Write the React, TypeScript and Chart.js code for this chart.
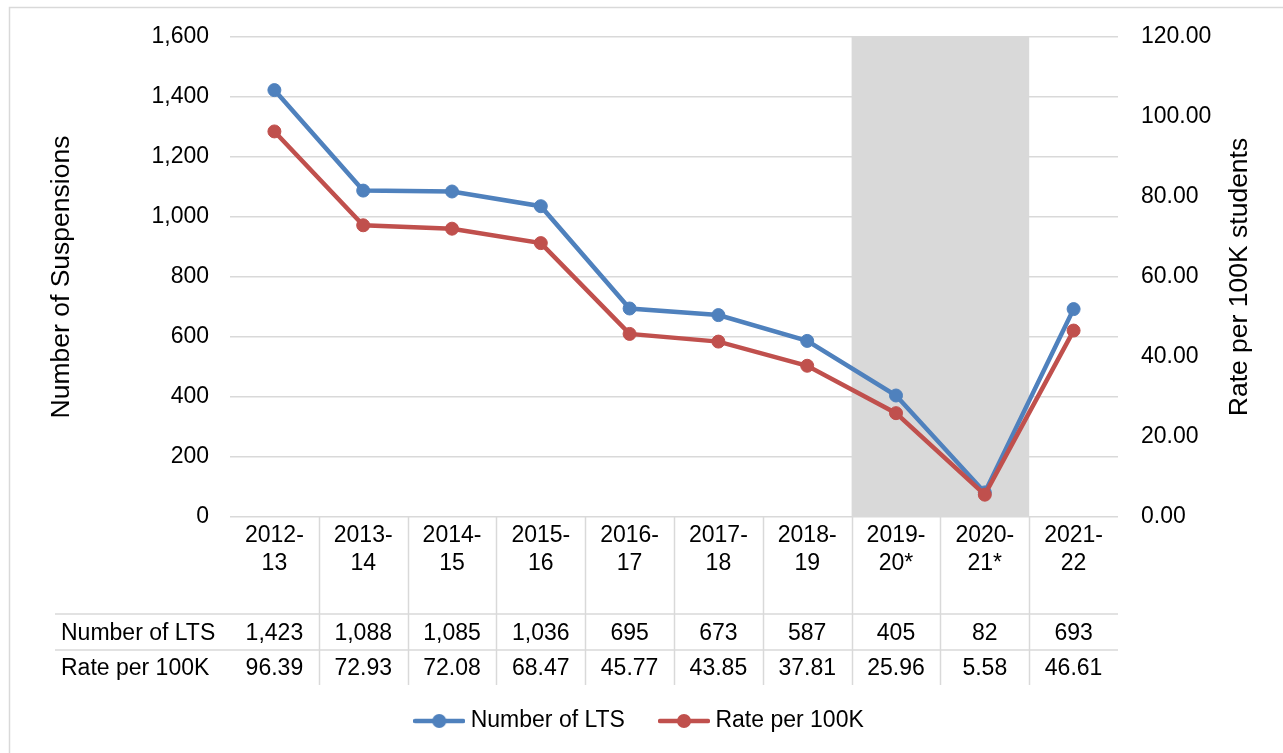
import React, { useEffect, useRef } from "react";
import { Chart, registerables } from "chart.js";

Chart.register(...registerables);

// ---- data ----
const categories: string[][] = [
  ["2012-", "13"],
  ["2013-", "14"],
  ["2014-", "15"],
  ["2015-", "16"],
  ["2016-", "17"],
  ["2017-", "18"],
  ["2018-", "19"],
  ["2019-", "20*"],
  ["2020-", "21*"],
  ["2021-", "22"],
];
const numberOfLTS = [1423, 1088, 1085, 1036, 695, 673, 587, 405, 82, 693];
const ratePer100K = [96.39, 72.93, 72.08, 68.47, 45.77, 43.85, 37.81, 25.96, 5.58, 46.61];
const seriesNames = ["Number of LTS", "Rate per 100K"];
const shadedFrom = 7;
const shadedTo = 8;
const leftAxisTitle = "Number of Suspensions";
const rightAxisTitle = "Rate per 100K students";
const leftTickMax = 1600;
const leftTickStep = 200;
const rightTickMax = 120;
const rightTickStep = 20;

// ---- styles ----
const FONT = "'Liberation Sans', Arial, sans-serif";
const FS = 23;
const TITLE_FS = 26.5;
const BLUE = "#4F81BD";
const RED = "#C0504D";
const GRID = "#D9D9D9";
const TEXT = "#000000";

function makeLegendImage(color: string): HTMLCanvasElement {
  const c = document.createElement("canvas");
  c.width = 52;
  c.height = 16;
  const g = c.getContext("2d")!;
  g.strokeStyle = color;
  g.lineWidth = 4.5;
  g.lineCap = "round";
  g.beginPath();
  g.moveTo(2, 8);
  g.lineTo(50, 8);
  g.stroke();
  g.fillStyle = color;
  g.beginPath();
  g.arc(26, 8, 7, 0, Math.PI * 2);
  g.fill();
  return c;
}

const tablePlugin = {
  id: "tablePlugin",
  beforeDraw(chart: any) {
    const ctx = chart.ctx;
    ctx.save();
    ctx.strokeStyle = GRID;
    ctx.lineWidth = 1.5;
    ctx.beginPath();
    ctx.moveTo(9.5, 753);
    ctx.lineTo(9.5, 7.5);
    ctx.lineTo(1283, 7.5);
    ctx.stroke();
    ctx.restore();
  },
  beforeDatasetsDraw(chart: any) {
    const ctx = chart.ctx;
    const x = chart.scales.x;
    const area = chart.chartArea;
    const half = (x.getPixelForValue(1) - x.getPixelForValue(0)) / 2;
    const x0 = x.getPixelForValue(shadedFrom) - half;
    const x1 = x.getPixelForValue(shadedTo) + half;
    ctx.save();
    ctx.fillStyle = GRID;
    ctx.fillRect(x0, area.top, x1 - x0, area.bottom - area.top);
    ctx.restore();
  },
  afterDraw(chart: any) {
    const ctx = chart.ctx;
    const x = chart.scales.x;
    const area = chart.chartArea;
    const half = (x.getPixelForValue(1) - x.getPixelForValue(0)) / 2;
    const rowLine1 = 614;
    const rowLine2 = 650;
    const tableBottom = 685;
    const tableLeft = 55;
    ctx.save();
    ctx.strokeStyle = GRID;
    ctx.lineWidth = 1.5;
    ctx.beginPath();
    for (let i = 0; i < categories.length - 1; i++) {
      const bx = Math.round(x.getPixelForValue(i) + half) + 0.5;
      ctx.moveTo(bx, area.bottom);
      ctx.lineTo(bx, tableBottom);
    }
    ctx.moveTo(tableLeft, rowLine1);
    ctx.lineTo(area.right, rowLine1);
    ctx.moveTo(tableLeft, rowLine2);
    ctx.lineTo(area.right, rowLine2);
    ctx.stroke();

    ctx.fillStyle = TEXT;
    ctx.font = `${FS}px ${FONT}`;
    ctx.textBaseline = "middle";
    ctx.textAlign = "left";
    const y1 = (rowLine1 + rowLine2) / 2 + 1.5;
    const y2 = (rowLine2 + tableBottom) / 2 + 1.5;
    ctx.fillText(seriesNames[0], 61, y1);
    ctx.fillText(seriesNames[1], 61, y2);
    ctx.textAlign = "center";
    for (let i = 0; i < categories.length; i++) {
      const cx = x.getPixelForValue(i);
      ctx.fillText(numberOfLTS[i].toLocaleString("en-US"), cx, y1);
      ctx.fillText(ratePer100K[i].toFixed(2), cx, y2);
    }

    // right axis title (reads bottom to top)
    ctx.font = `${TITLE_FS}px ${FONT}`;
    ctx.translate(1240, (area.top + area.bottom) / 2);
    ctx.rotate(-Math.PI / 2);
    ctx.textAlign = "center";
    ctx.fillText(rightAxisTitle, 0, 0);
    ctx.restore();
  },
};

export default function App() {
  const ref = useRef<HTMLCanvasElement | null>(null);

  useEffect(() => {
    if (!ref.current) return;
    Chart.defaults.font.family = FONT;
    Chart.defaults.font.size = FS;
    Chart.defaults.color = TEXT;
    const legendImages = [makeLegendImage(BLUE), makeLegendImage(RED)];

    const chart = new Chart(ref.current, {
      type: "line",
      data: {
        labels: categories,
        datasets: [
          {
            label: seriesNames[0],
            data: numberOfLTS,
            yAxisID: "y",
            borderColor: BLUE,
            backgroundColor: BLUE,
            borderWidth: 4.5,
            pointRadius: 6.5,
            pointBorderWidth: 1,
            pointBackgroundColor: BLUE,
            pointBorderColor: BLUE,
            tension: 0,
            order: 1,
          },
          {
            label: seriesNames[1],
            data: ratePer100K,
            yAxisID: "y2",
            borderColor: RED,
            backgroundColor: RED,
            borderWidth: 4.5,
            pointRadius: 6.5,
            pointBorderWidth: 1,
            pointBackgroundColor: RED,
            pointBorderColor: RED,
            tension: 0,
            order: 0,
          },
        ],
      },
      options: {
        responsive: false,
        animation: false,
        layout: { padding: { top: 37, left: 0, right: 0, bottom: 10.5 } },
        plugins: {
          tooltip: { enabled: false },
          legend: {
            position: "bottom",
            labels: {
              usePointStyle: true,
              pointStyleWidth: 40,
              padding: 39,
              color: TEXT,
              font: { size: FS, family: FONT },
              sort: (a: any, b: any) => a.datasetIndex - b.datasetIndex,
              generateLabels: (c: any) => {
                const items = Chart.defaults.plugins.legend.labels.generateLabels(c);
                return items.map((it: any) => ({
                  ...it,
                  pointStyle: legendImages[it.datasetIndex],
                  lineWidth: 0,
                }));
              },
            },
          },
        },
        scales: {
          x: {
            type: "category",
            offset: true,
            grid: { display: false, drawTicks: false },
            border: { display: false },
            ticks: {
              autoSkip: false,
              maxRotation: 0,
              minRotation: 0,
              padding: 5,
              color: TEXT,
              font: { size: FS, family: FONT },
            },
            afterFit: (s: any) => {
              s.height = 153.5;
            },
          },
          y: {
            type: "linear",
            position: "left",
            min: 0,
            max: leftTickMax,
            ticks: {
              stepSize: leftTickStep,
              padding: 21,
              color: TEXT,
              font: { size: FS, family: FONT },
              callback: (v: any) => Number(v).toLocaleString("en-US"),
            },
            grid: { color: GRID, lineWidth: 1.5, drawTicks: false },
            border: { display: false },
            title: {
              display: true,
              text: leftAxisTitle,
              color: TEXT,
              font: { size: TITLE_FS, family: FONT },
              padding: { top: 46, bottom: 0 },
            },
            afterFit: (s: any) => {
              s.width = 230;
            },
          },
          y2: {
            type: "linear",
            position: "right",
            min: 0,
            max: rightTickMax,
            ticks: {
              stepSize: rightTickStep,
              padding: 23,
              color: TEXT,
              font: { size: FS, family: FONT },
              callback: (v: any) => Number(v).toFixed(2),
            },
            grid: { display: false, drawTicks: false },
            border: { display: false },
            afterFit: (s: any) => {
              s.width = 165;
            },
          },
        },
      },
      plugins: [tablePlugin],
    });
    return () => chart.destroy();
  }, []);

  return (
    <div style={{ position: "absolute", left: 0, top: 0, width: 1283, height: 753, background: "#fff" }}>
      <canvas ref={ref} width={1283} height={753} style={{ display: "block" }} />
    </div>
  );
}
